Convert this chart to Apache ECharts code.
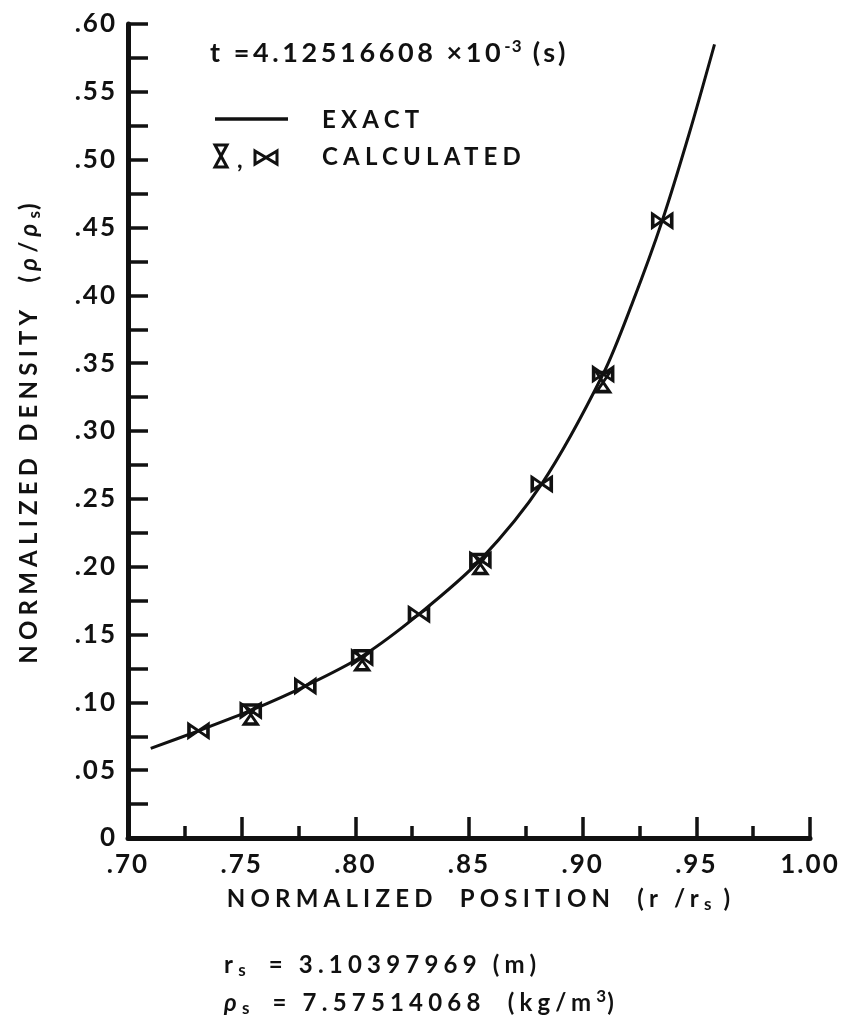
<!DOCTYPE html>
<html>
<head>
<meta charset="utf-8">
<script src="https://cdn.jsdelivr.net/npm/echarts@6/dist/echarts.min.js"></script>
<style>
  html, body { margin: 0; padding: 0; background: #ffffff; }
  #chart { width: 847px; height: 1020px; }
</style>
</head>
<body>
<div id="chart"></div>
<script>
// ---- axis ticks ----
const xTickValues = [0.70, 0.75, 0.80, 0.85, 0.90, 0.95, 1.00];
const xTickLabels = ['.70', '.75', '.80', '.85', '.90', '.95', '1.00'];
const yTickValues = [0, 0.05, 0.10, 0.15, 0.20, 0.25, 0.30, 0.35, 0.40, 0.45, 0.50, 0.55, 0.60];
const yTickLabels = ['0', '.05', '.10', '.15', '.20', '.25', '.30', '.35', '.40', '.45', '.50', '.55', '.60'];

// ---- exact solution (normalized position r/rs, normalized density rho/rhos) ----
const exactX = [0.710, 0.731, 0.754, 0.778, 0.803, 0.828, 0.855, 0.882, 0.909, 0.922, 0.935, 0.947, 0.958];
const exactY = [0.066, 0.079, 0.094, 0.112, 0.134, 0.165, 0.205, 0.261, 0.342, 0.395, 0.455, 0.520, 0.585];

// ---- calculated values, bowtie markers ----
const bowtieX = [0.731, 0.754, 0.778, 0.803, 0.828, 0.855, 0.882, 0.909, 0.935];
const bowtieY = [0.079, 0.094, 0.112, 0.133, 0.165, 0.205, 0.261, 0.342, 0.455];

// ---- calculated values, hourglass markers ----
const hourglassX = [0.754, 0.803, 0.855, 0.909];
const hourglassY = [0.091, 0.131, 0.202, 0.336];

// Lettering is widely spaced; apply canvas letter spacing per font size,
// both when measuring and when drawing so layout stays consistent.
const LETTER_SPACING = { 26: 2, 24: 5.2, 27: 3.6, 17: 1 };
function spacingFor(font) {
  const m = /(\d+(?:\.\d+)?)px/.exec(font || '');
  return m ? (LETTER_SPACING[Math.round(+m[1])] || 0) : 0;
}
['fillText', 'strokeText', 'measureText'].forEach(fn => {
  const proto = CanvasRenderingContext2D.prototype;
  const orig = proto[fn];
  proto[fn] = function () {
    if ('letterSpacing' in this) this.letterSpacing = spacingFor(this.font) + 'px';
    return orig.apply(this, arguments);
  };
});

const FONT = 'Lato, "Open Sans", sans-serif';
const W = 'bold';
const INK = '#111111';

const pairs = (xs, ys) => xs.map((x, i) => [x, ys[i]]);
const labelFor = (values, labels) => v => {
  const i = values.findIndex(t => Math.abs(t - v) < 1e-6);
  return i >= 0 ? labels[i] : '';
};

const BOWTIE = 'path://M0,0L10,6L0,12ZM20,0L10,6L20,12Z';
const HOURGLASS = 'path://M0,0L12,0L6,10ZM0,20L12,20L6,10Z';

const sub = { fontFamily: FONT, fontWeight: W, fontSize: 17, lineHeight: 12, verticalAlign: 'bottom', color: INK, fill: INK };
const sup = { fontFamily: FONT, fontWeight: W, fontSize: 17, lineHeight: 14, verticalAlign: 'top', color: INK, fill: INK };
const rho = { fontFamily: FONT, fontWeight: W, fontSize: 24, fontStyle: 'italic', color: INK, fill: INK };

const chart = echarts.init(document.getElementById('chart'), null, { renderer: 'canvas' });

chart.setOption({
  animation: false,
  backgroundColor: '#ffffff',
  grid: { left: 128, right: 37, top: 24, bottom: 182, containLabel: false, outerBoundsMode: 'none' },
  xAxis: {
    type: 'value', min: 0.70, max: 1.00, interval: 0.05,
    axisLine: { show: true, onZero: false, lineStyle: { color: INK, width: 5 } },
    axisTick: { show: true, inside: true, length: 21, lineStyle: { color: INK, width: 3.5 } },
    minorTick: { show: true, splitNumber: 2, length: 12, lineStyle: { color: INK, width: 3.5 } },
    splitLine: { show: false },
    axisLabel: {
      margin: 13, color: INK, fontFamily: FONT, fontWeight: W, fontSize: 26,
      formatter: labelFor(xTickValues, xTickLabels)
    },
    name: 'NORMALIZED  POSITION  (r /r{sub|s} )',
    nameLocation: 'middle', nameGap: 44,
    nameTextStyle: {
      color: INK, fontFamily: FONT, fontWeight: W, fontSize: 24, lineHeight: 30, padding: [0, 0, 0, 24],
      rich: { sub }
    }
  },
  yAxis: {
    type: 'value', min: 0, max: 0.60, interval: 0.05,
    axisLine: { show: true, onZero: false, lineStyle: { color: INK, width: 5 } },
    axisTick: { show: true, inside: true, length: 20, lineStyle: { color: INK, width: 3.5 } },
    minorTick: { show: true, splitNumber: 2, length: 20, lineStyle: { color: INK, width: 3.5 } },
    splitLine: { show: false },
    axisLabel: {
      margin: 11, color: INK, fontFamily: FONT, fontWeight: W, fontSize: 26,
      formatter: labelFor(yTickValues, yTickLabels)
    },
    name: 'NORMALIZED DENSITY  ({rho|ρ}/{rho|ρ}{sub|s})',
    nameLocation: 'middle', nameGap: 84, nameRotate: 90,
    nameTextStyle: {
      color: INK, fontFamily: FONT, fontWeight: W, fontSize: 24, lineHeight: 30,
      rich: { rho, sub }
    }
  },
  series: [
    {
      name: 'EXACT', type: 'line', data: pairs(exactX, exactY),
      smooth: 0.3, showSymbol: false, symbol: 'none', z: 2,
      lineStyle: { color: INK, width: 3 }
    },
    {
      name: 'CALCULATED', type: 'scatter', data: pairs(bowtieX, bowtieY),
      symbol: BOWTIE, symbolSize: [19, 13], z: 3,
      itemStyle: { color: 'rgba(255,255,255,0)', borderColor: INK, borderWidth: 3, opacity: 1 }
    },
    {
      name: 'CALCULATED ', type: 'scatter', data: pairs(hourglassX, hourglassY),
      symbol: HOURGLASS, symbolSize: [13, 19], z: 3,
      itemStyle: { color: 'rgba(255,255,255,0)', borderColor: INK, borderWidth: 3, opacity: 1 }
    }
  ],
  graphic: [
    // time stamp
    {
      type: 'text', left: 210, top: 38,
      style: {
        text: 't =4.12516608 ×10{sup|-3} (s)', fill: INK, font: W + ' 27px ' + FONT,
        rich: { sup }
      }
    },
    // legend: exact
    { type: 'line', shape: { x1: 215, y1: 119, x2: 288, y2: 119 }, style: { stroke: INK, lineWidth: 3.5 } },
    { type: 'text', left: 322, top: 106, style: { text: 'EXACT', fill: INK, font: W + ' 24px ' + FONT } },
    // legend: calculated (hourglass, bowtie)
    { type: 'polygon', shape: { points: [[215, 145], [227, 145], [221, 156]] }, style: { fill: 'none', stroke: INK, lineWidth: 3 } },
    { type: 'polygon', shape: { points: [[215, 167], [227, 167], [221, 156]] }, style: { fill: 'none', stroke: INK, lineWidth: 3 } },
    { type: 'text', left: 237, top: 146, style: { text: ',', fill: INK, font: W + ' 24px ' + FONT } },
    { type: 'polygon', shape: { points: [[255, 151], [266, 157.5], [255, 164]] }, style: { fill: 'none', stroke: INK, lineWidth: 3 } },
    { type: 'polygon', shape: { points: [[277, 151], [266, 157.5], [277, 164]] }, style: { fill: 'none', stroke: INK, lineWidth: 3 } },
    { type: 'text', left: 322, top: 143, style: { text: 'CALCULATED', fill: INK, font: W + ' 24px ' + FONT } },
    // scale factors
    {
      type: 'text', left: 224, top: 950,
      style: {
        text: 'r{sub|s}  = 3.10397969 (m)', fill: INK, font: W + ' 24px ' + FONT, lineHeight: 30,
        rich: { sub }
      }
    },
    {
      type: 'text', left: 224, top: 988,
      style: {
        text: '{rho|ρ}{sub|s}  = 7.57514068  (kg/m{sup|3})', fill: INK, font: W + ' 24px ' + FONT, lineHeight: 30,
        rich: { rho, sub, sup }
      }
    }
  ]
});
</script>
</body>
</html>
